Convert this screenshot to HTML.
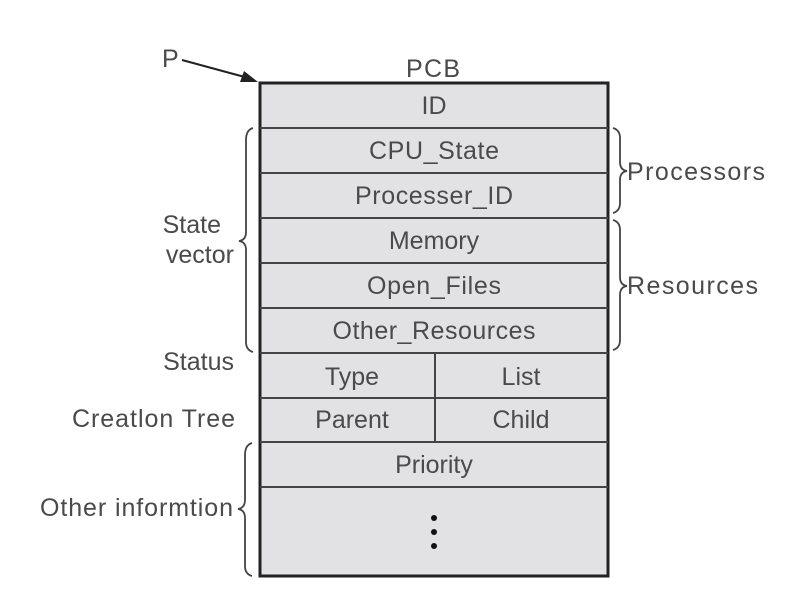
<!DOCTYPE html>
<html><head><style>body{margin:0;background:#fff}svg{display:block}</style></head><body>
<svg width="788" height="614" xmlns="http://www.w3.org/2000/svg" font-family="Liberation Sans, sans-serif" font-size="25" fill="#4a4a4a">
<rect x="260" y="83" width="348" height="493" fill="#e2e2e4" stroke="#222" stroke-width="3"/>
<g stroke="#444" stroke-width="2">
<line x1="260" y1="128" x2="608" y2="128"/>
<line x1="260" y1="173" x2="608" y2="173"/>
<line x1="260" y1="218" x2="608" y2="218"/>
<line x1="260" y1="263" x2="608" y2="263"/>
<line x1="260" y1="308" x2="608" y2="308"/>
<line x1="260" y1="353" x2="608" y2="353"/>
<line x1="260" y1="398" x2="608" y2="398"/>
<line x1="260" y1="442" x2="608" y2="442"/>
<line x1="260" y1="487" x2="608" y2="487"/>
<line x1="435" y1="353" x2="435" y2="442"/>
</g>
<g text-anchor="middle">
<text x="433" y="77" textLength="54">PCB</text>
<text x="434" y="114">ID</text>
<text x="434" y="159" textLength="130">CPU_State</text>
<text x="434" y="204" textLength="158">Processer_ID</text>
<text x="434" y="249">Memory</text>
<text x="434" y="294" textLength="134">Open_Files</text>
<text x="434" y="339" textLength="203">Other_Resources</text>
<text x="352" y="385">Type</text>
<text x="521" y="385">List</text>
<text x="352" y="428">Parent</text>
<text x="521" y="428">Child</text>
<text x="434" y="473">Priority</text>
</g>
<g fill="#111"><circle cx="434" cy="518" r="3"/><circle cx="434" cy="532" r="3"/><circle cx="434" cy="546" r="3"/></g>
<text x="162" y="67">P</text>
<line x1="182" y1="60" x2="252" y2="79" stroke="#222" stroke-width="2"/>
<polygon points="258,82 244,71 240,82" fill="#222"/>
<g text-anchor="end">
<text x="221" y="233">State</text>
<text x="234" y="263">vector</text>
<text x="234" y="370">Status</text>
<text x="235" y="427" textLength="163">Creatlon Tree</text>
<text x="233" y="516" textLength="193">Other informtion</text>
</g>
<text x="627" y="180" textLength="138">Processors</text>
<text x="627" y="294" textLength="131">Resources</text>
<g fill="none" stroke="#444" stroke-width="1.8">
<path d="M253,128 Q246,130 246,140 L246,232 Q246,240 239,241 Q246,242 246,250 L246,342 Q246,350 253,352"/>
<path d="M252,443 Q245,445 245,455 L245,500 Q245,508 238,509 Q245,510 245,518 L245,566 Q245,574 252,576"/>
<path d="M613,128 Q620,130 620,138 L620,162 Q620,170 627,171 Q620,172 620,180 L620,203 Q620,211 613,213"/>
<path d="M613,220 Q620,222 620,230 L620,277 Q620,285 627,286 Q620,287 620,295 L620,340 Q620,348 613,350"/>
</g>
</svg>
</body></html>
